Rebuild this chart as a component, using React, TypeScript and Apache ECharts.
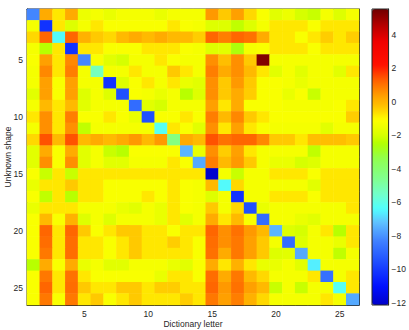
import React, { useEffect, useRef } from "react";
import * as echarts from "echarts";

const letters: string[] = Array.from({ length: 26 }, (_, i) => String(i + 1));
const shapes: string[] = Array.from({ length: 26 }, (_, i) => String(i + 1));
const tickLabels: number[] = [5, 10, 15, 20, 25];
const colorbarTicks: number[] = [-12, -10, -8, -6, -4, -2, 0, 2, 4];
const colorMin = -12.12;
const colorMax = 5.55;

// rows = unknown shape (1..26), columns = dictionary letter (1..26)
const scores: number[][] = [
  [-8.2, 0.15, -0.75, 0.15, -1.5, -1.3, -1.55, -1.3, -1.3, -1.3, -1.55, -1.3, -1.3, -1.3, 0.45, -0.35, 0.35, -0.55, -1.2, -1.75, -1.5, -2.0, -2.2, -1.3, -1.85, -1.3],
  [-1.3, -10.2, -0.75, -1.85, -1.3, -0.75, -1.2, -1.2, -1.2, -1.2, -1.2, -0.75, -1.2, -1.3, -1.85, -1.85, -2.3, -1.85, -1.3, -0.75, -0.75, -0.75, -1.2, -0.75, -0.75, -0.75],
  [-0.55, 1.2, -6.4, 1.2, 0.05, -0.35, -0.55, -0.1, 0.15, -0.1, 0.15, -0.1, -0.1, -0.4, 1.2, 0.85, 1.2, 1.05, 0.15, -0.75, -0.75, -1.2, -0.75, -0.4, -0.75, -0.4],
  [-1.3, -2.4, -0.75, -10.2, -0.75, -0.75, -1.2, -1.2, -1.2, -0.75, -0.75, -0.75, -1.2, -1.3, -1.85, -1.75, -2.6, -1.3, -1.2, -0.75, -0.75, -0.75, -1.2, -0.75, -0.75, -0.75],
  [-1.2, 0.35, -0.75, 0.7, -8.2, -1.2, -1.75, -2.0, -1.3, -1.3, -0.75, -1.2, -1.3, -1.3, 0.6, -0.2, 0.6, -0.35, 5.3, -1.3, -1.3, -1.3, -1.3, -1.3, -1.3, -1.3],
  [-1.3, 0.7, -0.75, 0.85, -1.3, -5.3, -1.3, -1.3, -0.75, -1.3, -1.3, -0.35, -0.75, -1.3, 0.85, 0.15, 0.6, -0.1, -0.75, -1.75, -1.3, -1.75, -1.3, -1.3, -1.75, -0.75],
  [-1.3, 0.35, -1.2, 0.35, -1.3, -1.3, -10.2, -1.85, -1.2, -0.75, -1.3, -0.75, -1.55, -1.75, 0.6, -0.35, 0.45, -0.35, -1.2, -1.2, -1.3, -1.55, -1.3, -1.3, -1.3, -1.3],
  [-1.75, 0.35, -1.2, 0.35, -1.85, -1.3, -1.85, -9.5, -1.2, -1.3, -1.55, -1.3, -2.4, -1.85, 0.6, -0.35, 0.15, -0.4, -1.2, -1.2, -1.55, -1.2, -2.2, -1.3, -1.3, -1.3],
  [-1.3, -0.1, -0.75, -0.1, -1.75, -1.3, -1.3, -1.3, -8.8, -1.75, -2.0, -1.3, -1.3, -1.3, 0.35, -0.75, 0.15, -1.2, -1.2, -1.2, -1.3, -1.3, -1.3, -1.3, -1.2, -0.75],
  [-0.75, 0.6, -0.75, 0.85, -1.2, -1.2, -0.75, -1.2, -1.55, -9.5, -1.2, -1.2, -0.75, -1.2, 0.85, -0.1, 0.7, -0.35, -0.75, -1.2, -1.2, -1.2, -1.2, -1.2, -1.2, -0.4],
  [-1.3, 0.6, -0.75, 0.6, -2.3, -1.3, -1.3, -1.3, -1.3, -1.3, -6.2, -0.75, -1.2, -1.75, 0.6, -0.75, 0.35, -0.75, -1.2, -1.3, -1.3, -1.3, -1.3, -1.75, -1.3, -1.3],
  [-0.55, 1.45, -0.1, 1.45, -0.1, 0.15, -0.1, 0.15, 0.45, -0.1, 0.45, -4.3, 0.15, -0.1, 1.45, 1.05, 1.2, 1.2, 0.7, -0.35, -0.35, -0.75, -0.2, -0.2, -0.2, -0.35],
  [-1.75, 0.15, -1.2, 0.15, -1.75, -1.3, -2.2, -2.4, -1.2, -1.2, -1.2, -1.2, -7.4, -1.55, 0.6, -0.4, 0.35, -0.75, -1.3, -1.3, -1.3, -1.3, -2.3, -1.3, -1.3, -1.3],
  [-1.75, 0.6, -1.2, 0.6, -1.75, -1.3, -1.75, -1.75, -1.3, -1.3, -1.3, -0.75, -1.2, -7.6, 0.85, -0.1, 0.45, -0.35, -1.3, -1.55, -1.55, -2.0, -1.85, -1.3, -1.3, -1.3],
  [-1.2, -2.2, -0.75, -2.2, -0.75, -0.75, -0.75, -0.75, -0.75, -0.75, -0.75, -0.75, -0.75, -0.75, -12.0, -1.3, -2.2, -1.3, -1.3, -0.75, -0.75, -0.75, -1.2, -0.75, -0.75, -0.75],
  [-1.55, -0.75, -0.75, -0.35, -0.75, -0.75, -1.2, -1.2, -1.2, -1.2, -1.2, -0.75, -1.2, -1.3, -0.1, -6.4, -0.55, -1.3, -1.3, -1.3, -1.3, -1.3, -1.75, -0.75, -0.75, -0.75],
  [-1.2, -2.3, -0.75, -2.4, -0.75, -0.75, -1.2, -1.2, -1.2, -0.75, -1.2, -0.75, -1.2, -1.3, -1.85, -1.3, -10.2, -1.3, -1.3, -0.75, -0.75, -0.75, -1.2, -0.75, -0.75, -0.75],
  [-1.55, -0.75, -0.75, -0.75, -1.3, -1.3, -1.3, -1.55, -1.75, -1.3, -1.55, -0.75, -1.2, -1.3, -0.35, -1.3, -0.55, -9.5, -1.55, -1.3, -1.3, -1.3, -1.3, -1.3, -1.3, -0.75],
  [-1.2, -0.1, -1.2, 0.05, -1.85, -1.3, -1.85, -1.3, -1.3, -1.3, -1.55, -0.75, -1.75, -1.3, 0.15, -0.75, -0.1, -1.2, -8.8, -1.3, -1.3, -1.55, -1.75, -1.3, -1.3, -1.3],
  [-1.2, 1.2, -0.75, 1.2, -0.35, -1.2, -0.75, -0.35, -0.35, -0.75, -0.75, -1.2, -0.75, -0.75, 1.2, 0.6, 1.05, 0.45, -0.1, -7.4, -1.85, -2.0, -1.3, -0.75, -2.4, -0.75],
  [-1.2, 1.1, -0.75, 1.1, -0.75, -0.75, -1.2, -0.75, -0.35, -0.75, -0.75, -0.4, -0.75, -1.2, 1.1, 0.6, 0.95, 0.35, -0.35, -1.3, -8.8, -1.85, -1.3, -1.3, -1.55, -0.75],
  [-1.2, 0.95, -0.75, 1.1, -0.75, -0.75, -1.2, -0.75, -0.35, -0.75, -0.75, -0.75, -0.75, -1.2, 1.05, 0.15, 0.95, 0.35, -0.35, -1.85, -1.75, -7.6, -1.3, -1.3, -2.3, -1.3],
  [-2.4, 0.15, -1.2, 0.15, -1.55, -1.3, -1.75, -1.75, -1.3, -1.3, -1.3, -1.55, -1.75, -1.2, 0.15, -0.75, 0.05, -0.75, -1.55, -1.55, -1.3, -1.75, -6.6, -1.3, -1.3, -1.3],
  [-1.2, 0.95, -0.75, 1.05, -0.75, -1.2, -1.2, -1.2, -1.2, -1.2, -1.55, -0.75, -0.75, -1.2, 1.1, 0.15, 0.95, -0.1, -0.55, -1.3, -1.3, -1.3, -0.75, -8.7, -1.3, -0.75],
  [-1.2, 1.2, -0.75, 1.1, -0.35, -0.75, -0.75, -0.35, -0.35, -0.75, -0.4, -0.4, -0.75, -0.75, 1.2, 0.45, 1.05, 0.35, -0.1, -2.2, -1.3, -2.2, -1.3, -1.3, -6.2, -0.75],
  [-1.2, 0.95, -1.2, 0.95, -0.75, -0.35, -1.2, -0.75, -0.35, -0.75, -0.75, -0.75, -0.4, -0.75, 0.95, 0.35, 0.85, 0.05, -0.55, -1.3, -1.3, -1.3, -1.3, -0.75, -1.3, -7.6],
];

// colormap stops (value -> colour)
const cmapStops: [number, string][] = [
  [-12.12, "#0000c8"],
  [-11.0, "#0010ff"],
  [-9.5, "#2050ff"],
  [-8.3, "#4080ff"],
  [-7.2, "#60c0ff"],
  [-6.4, "#50ffff"],
  [-5.6, "#70ffd0"],
  [-4.6, "#80ff90"],
  [-3.4, "#90ff50"],
  [-2.5, "#b0ff00"],
  [-2.0, "#d8ff00"],
  [-1.05, "#ffff00"],
  [-0.3, "#ffc400"],
  [0.35, "#ffa000"],
  [1.3, "#ff6000"],
  [2.2, "#ff1000"],
  [3.6, "#f00000"],
  [4.4, "#c00000"],
  [5.55, "#700000"],
];

function hexToRgb(h: string): number[] {
  return [parseInt(h.slice(1, 3), 16), parseInt(h.slice(3, 5), 16), parseInt(h.slice(5, 7), 16)];
}
function colorAt(v: number): string {
  if (v <= cmapStops[0][0]) return cmapStops[0][1];
  for (let i = 1; i < cmapStops.length; i++) {
    const [v1, c1] = cmapStops[i];
    const [v0, c0] = cmapStops[i - 1];
    if (v <= v1) {
      const t = (v - v0) / (v1 - v0);
      const a = hexToRgb(c0);
      const b = hexToRgb(c1);
      const r = a.map((x, k) => Math.round(x + (b[k] - x) * t));
      return `rgb(${r[0]},${r[1]},${r[2]})`;
    }
  }
  return cmapStops[cmapStops.length - 1][1];
}
const paletteSteps = 64;
const palette: string[] = Array.from({ length: paletteSteps + 1 }, (_, i) =>
  colorAt(colorMin + (i * (colorMax - colorMin)) / paletteSteps)
);

const FONT = "Liberation Sans";
const INK = "#262626";

export default function App() {
  const ref = useRef<HTMLDivElement>(null);
  useEffect(() => {
    if (!ref.current) return;
    const chart = echarts.init(ref.current, undefined, { renderer: "svg" });
    const data: number[][] = [];
    scores.forEach((row, r) => row.forEach((v, c) => data.push([c, r, v])));
    const showTick = (idx: number) => tickLabels.includes(idx + 1);
    const catAxisCommon = {
      type: "category" as const,
      axisLine: { show: true, lineStyle: { color: INK, width: 1 } },
      splitLine: { show: false },
      splitArea: { show: false },
    };
    chart.setOption({
      animation: false,
      textStyle: { fontFamily: FONT },
      grid: [
        { left: 27, top: 9, width: 332, height: 296, show: true, borderColor: INK, borderWidth: 1, backgroundColor: "transparent" },
        { left: 372, top: 9, width: 17, height: 296, show: true, borderColor: INK, borderWidth: 1, backgroundColor: "transparent", z: 10 },
      ],
      xAxis: [
        {
          ...catAxisCommon,
          gridIndex: 0,
          data: letters,
          position: "bottom",
          axisTick: { show: true, inside: true, length: 3, alignWithLabel: true, interval: showTick, lineStyle: { color: INK } },
          axisLabel: { show: true, interval: showTick, color: INK, fontSize: 8.5, margin: 4, fontFamily: FONT },
        },
        {
          ...catAxisCommon,
          gridIndex: 0,
          data: letters,
          position: "top",
          axisTick: { show: true, inside: true, length: 3, alignWithLabel: true, interval: showTick, lineStyle: { color: INK } },
          axisLabel: { show: false },
        },
        {
          type: "category",
          gridIndex: 1,
          data: ["c"],
          axisLine: { show: false },
          axisTick: { show: false },
          axisLabel: { show: false },
          splitLine: { show: false },
        },
      ],
      yAxis: [
        {
          ...catAxisCommon,
          gridIndex: 0,
          data: shapes,
          inverse: true,
          position: "left",
          axisTick: { show: true, inside: true, length: 3, alignWithLabel: true, interval: showTick, lineStyle: { color: INK } },
          axisLabel: { show: true, interval: showTick, color: INK, fontSize: 8.5, margin: 4, fontFamily: FONT },
        },
        {
          ...catAxisCommon,
          gridIndex: 0,
          data: shapes,
          inverse: true,
          position: "right",
          axisTick: { show: true, inside: true, length: 3, alignWithLabel: true, interval: showTick, lineStyle: { color: INK } },
          axisLabel: { show: false },
        },
        {
          type: "value",
          gridIndex: 1,
          min: colorMin,
          max: colorMax,
          position: "right",
          axisLine: { show: true, lineStyle: { color: INK } },
          splitLine: { show: false },
          axisTick: { show: true, inside: true, length: 3, customValues: colorbarTicks, lineStyle: { color: INK } },
          axisLabel: {
            show: true,
            customValues: colorbarTicks,
            color: INK,
            fontSize: 8.5,
            margin: 3,
            fontFamily: FONT,
            formatter: (v: number) => (v < 0 ? "\u2212" + Math.abs(v) : String(v)),
          },
        },
      ],
      visualMap: {
        type: "continuous",
        min: colorMin,
        max: colorMax,
        seriesIndex: 0,
        calculable: false,
        realtime: false,
        orient: "vertical",
        left: 372,
        top: 9,
        itemWidth: 17,
        itemHeight: 296,
        padding: 0,
        text: ["", ""],
        textGap: 0,
        showLabel: false,
        hoverLink: false,
        inRange: { color: palette },
      },
      graphic: [
        {
          type: "text",
          x: 193,
          y: 323.5,
          style: { text: "Dictionary letter", fontSize: 8.5, fill: INK, fontFamily: FONT, align: "center", verticalAlign: "middle" },
        },
        {
          type: "text",
          x: 8,
          y: 157,
          rotation: Math.PI / 2,
          style: { text: "Unknown shape", fontSize: 8.5, fill: INK, fontFamily: FONT, align: "center", verticalAlign: "middle" },
        },
      ],
      series: [
        {
          type: "heatmap",
          xAxisIndex: 0,
          yAxisIndex: 0,
          data,
          itemStyle: { borderWidth: 0 },
          emphasis: { disabled: true },
          label: { show: false },
        },
      ],
    });
    return () => chart.dispose();
  }, []);
  return (
    <div
      ref={ref}
      style={{ position: "absolute", left: 0, top: 0, width: 409, height: 330, background: "#fff" }}
    />
  );
}
